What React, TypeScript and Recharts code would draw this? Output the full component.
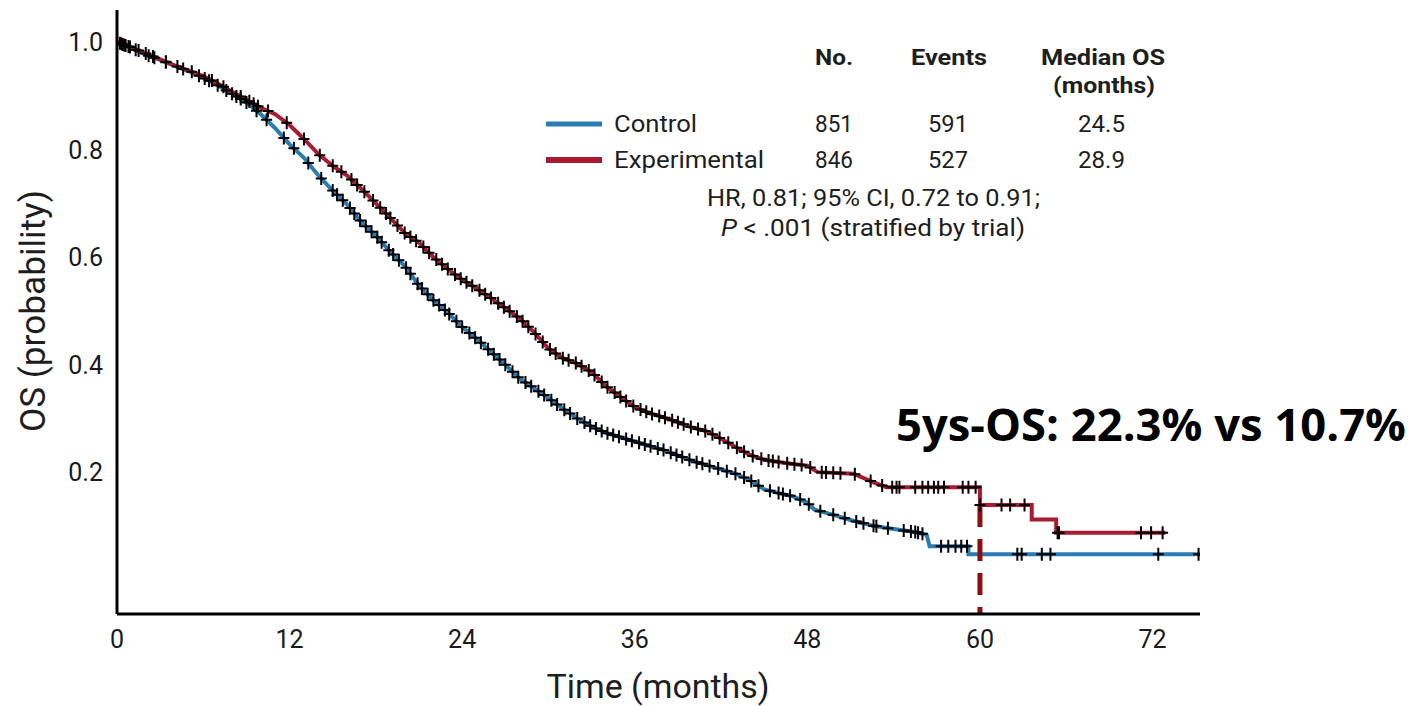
import { ComposedChart, Line, Scatter, XAxis, YAxis, ReferenceLine } from 'recharts';

// Kaplan-Meier curves (months, OS probability)
const controlTime = [0, 1, 2, 3, 4, 5, 6, 7, 8, 9, 10, 11, 12, 13, 14, 15, 16, 17, 18, 19, 20, 21, 22, 23, 24, 25, 26, 27, 28, 29, 30, 31, 32, 33, 34, 35, 36, 37, 38, 39, 40, 41, 42, 43, 44, 45, 46, 47, 48, 48.5, 50, 51, 52.6, 54, 55.6, 56.3, 56.5, 59.2, 59.2, 75.3];
const controlSurv = [1.0, 0.99, 0.977, 0.967, 0.956, 0.946, 0.934, 0.92, 0.904, 0.888, 0.866, 0.84, 0.81, 0.785, 0.752, 0.724, 0.698, 0.665, 0.64, 0.61, 0.584, 0.547, 0.52, 0.497, 0.47, 0.448, 0.424, 0.4, 0.374, 0.356, 0.338, 0.318, 0.3, 0.285, 0.273, 0.265, 0.257, 0.249, 0.241, 0.231, 0.221, 0.213, 0.205, 0.197, 0.185, 0.168, 0.161, 0.155, 0.143, 0.13, 0.119, 0.111, 0.1, 0.094, 0.088, 0.083, 0.062, 0.062, 0.047, 0.047];

const expTime = [0, 1, 2, 3, 4, 5, 6, 7, 8, 9, 10, 11, 12, 13, 14, 15, 16, 17, 18, 19, 20, 21, 22, 23, 24, 25, 26, 27, 28, 29, 30, 31, 32, 33, 34, 35, 36, 37, 38, 39, 40, 41, 42, 43, 44, 45, 46, 47, 48, 48.7, 51.2, 52.6, 53.5, 60, 60, 63.6, 63.6, 65.3, 65.3, 72.9];
const expSurv = [1.0, 0.99, 0.979, 0.968, 0.957, 0.947, 0.937, 0.923, 0.908, 0.893, 0.878, 0.866, 0.846, 0.82, 0.792, 0.77, 0.752, 0.727, 0.7, 0.673, 0.645, 0.627, 0.6, 0.578, 0.558, 0.542, 0.524, 0.505, 0.486, 0.46, 0.43, 0.412, 0.402, 0.386, 0.36, 0.34, 0.321, 0.31, 0.302, 0.293, 0.283, 0.276, 0.262, 0.247, 0.232, 0.223, 0.219, 0.215, 0.212, 0.2, 0.197, 0.181, 0.172, 0.172, 0.139, 0.139, 0.112, 0.112, 0.087, 0.087];

// censoring times (months)
const controlCensor = [0.2, 0.4, 0.6, 0.9, 1.3, 2.2, 2.6, 3.4, 4.6, 5.7, 6.1, 6.4, 7.0, 7.6, 8.0, 8.3, 8.6, 9.0, 9.7, 10.4, 11.6, 12.3, 13.3, 14.2, 15.0, 15.3, 15.7, 16.2, 16.5, 16.9, 17.3, 17.7, 18.1, 18.4, 18.9, 19.2, 19.6, 20.1, 20.4, 20.9, 21.2, 21.6, 22.0, 22.4, 22.8, 23.1, 23.6, 24.0, 24.5, 24.9, 25.3, 25.8, 26.2, 26.6, 27.0, 27.5, 27.9, 28.4, 28.8, 29.3, 29.7, 30.2, 30.6, 31.1, 31.5, 32.0, 32.5, 32.9, 33.3, 33.7, 34.1, 34.5, 34.9, 35.4, 35.8, 36.3, 36.7, 37.1, 37.6, 38.0, 38.5, 38.9, 39.3, 39.8, 40.3, 40.7, 41.2, 41.8, 42.4, 43.0, 43.6, 44.1, 44.6, 45.4, 46.0, 46.3, 46.8, 47.5, 48.1, 48.9, 49.8, 50.6, 51.4, 51.9, 52.6, 52.8, 53.6, 54.7, 55.2, 55.5, 55.7, 56.0, 57.3, 57.8, 58.3, 58.7, 59.1, 62.6, 62.9, 64.3, 64.9, 72.4, 75.2];
const expCensor = [0.3, 0.5, 0.8, 1.5, 2.0, 2.5, 3.4, 4.2, 5.2, 6.6, 7.4, 8.6, 9.2, 9.5, 9.8, 10.5, 11.8, 13.0, 14.1, 15.0, 15.6, 16.3, 16.7, 17.2, 17.8, 18.3, 18.7, 19.0, 19.5, 20.0, 20.4, 20.8, 21.3, 21.7, 22.2, 22.6, 23.0, 23.5, 23.9, 24.3, 24.7, 25.2, 25.6, 26.0, 26.5, 26.9, 27.3, 27.8, 28.2, 28.6, 29.1, 29.6, 30.1, 30.5, 31.0, 31.4, 31.9, 32.3, 32.8, 33.2, 33.7, 34.1, 34.6, 35.0, 35.4, 35.9, 36.4, 36.8, 37.2, 37.7, 38.1, 38.6, 39.0, 39.4, 39.9, 40.4, 40.9, 41.4, 41.9, 42.5, 43.1, 43.6, 44.2, 44.8, 45.3, 45.6, 46.0, 46.6, 47.1, 47.6, 48.2, 49.0, 49.3, 49.8, 50.3, 51.3, 52.4, 53.2, 53.9, 54.2, 54.4, 55.5, 56.0, 56.4, 56.8, 57.1, 57.5, 58.8, 59.2, 59.7, 60.0, 61.5, 62.1, 63.1, 65.4, 65.5, 71.2, 71.9, 72.7];

const xTicks = [0, 12, 24, 36, 48, 60, 72];
const yTicks = [0.2, 0.4, 0.6, 0.8, 1.0];

const BLUE = '#2a7db3';
const RED = '#a81c32';

// survival value on the drawn curve at time t
function survAt(times: number[], surv: number[], t: number) {
  let i = 0;
  while (i + 1 < times.length && times[i + 1] <= t) i++;
  if (i + 1 < times.length && times[i + 1] > times[i]) {
    const f = (t - times[i]) / (times[i + 1] - times[i]);
    return surv[i] + f * (surv[i + 1] - surv[i]);
  }
  return surv[i];
}

const controlData = controlTime.map((t, i) => ({ t, s: controlSurv[i] }));
const expData = expTime.map((t, i) => ({ t, s: expSurv[i] }));
const controlMarks = controlCensor.map((t) => ({ t, s: survAt(controlTime, controlSurv, t) }));
const expMarks = expCensor.map((t) => ({ t, s: survAt(expTime, expSurv, t) }));

const Plus = (props: any) => {
  const { cx, cy } = props;
  return (
    <path
      d={`M${cx - 5.5},${cy}H${cx + 5.5}M${cx},${cy - 6.5}V${cy + 6.5}`}
      stroke="#000"
      strokeWidth={2}
      fill="none"
    />
  );
};

const tickStyle = { fill: '#1a1a1a', fontSize: 25, fontFamily: 'Roboto, sans-serif' };
const txt = { fill: '#1e1e1e', fontFamily: '"Liberation Sans Narrow", Roboto, sans-serif' };

export default function App() {
  return (
    <div style={{ position: 'absolute', left: 0, top: 0, width: 1417, height: 706, background: '#fff' }}>
      <ComposedChart width={1417} height={706} margin={{ top: 10, right: 217, bottom: 52, left: 57 }}>
        <XAxis
          dataKey="t"
          type="number"
          domain={[0, 75.3]}
          ticks={xTicks}
          interval={0}
          tickLine={false}
          tickMargin={10}
          height={40}
          axisLine={{ stroke: '#000', strokeWidth: 3 }}
          tick={tickStyle}
          allowDataOverflow
        />
        <YAxis
          dataKey="s"
          type="number"
          domain={[-0.064, 1.06]}
          ticks={yTicks}
          interval={0}
          tickLine={false}
          tickMargin={8}
          width={60}
          axisLine={{ stroke: '#000', strokeWidth: 3 }}
          tick={tickStyle}
          tickFormatter={(v: number) => v.toFixed(1)}
          allowDataOverflow
        />
        <Line data={controlData} dataKey="s" type="linear" stroke={BLUE} strokeWidth={4} dot={false} isAnimationActive={false} />
        <Line data={expData} dataKey="s" type="linear" stroke={RED} strokeWidth={4} dot={false} isAnimationActive={false} />
        <ReferenceLine
          segment={[{ x: 60, y: 0.139 }, { x: 60, y: -0.064 }]}
          stroke="#8b0f12"
          strokeWidth={5}
          strokeDasharray="22 12"
        />
        <Scatter data={controlMarks} dataKey="s" shape={<Plus />} isAnimationActive={false} />
        <Scatter data={expMarks} dataKey="s" shape={<Plus />} isAnimationActive={false} />
      </ComposedChart>

      <svg width={1417} height={706} style={{ position: 'absolute', left: 0, top: 0, pointerEvents: 'none' }}>
        {/* legend table */}
        <g {...txt} fontSize={22} fontWeight="bold" dominantBaseline="central">
          <text x={815} y={57} textLength={38} lengthAdjust="spacingAndGlyphs">No.</text>
          <text x={911} y={57} textLength={76} lengthAdjust="spacingAndGlyphs">Events</text>
          <text x={1041} y={57} textLength={124} lengthAdjust="spacingAndGlyphs">Median OS</text>
          <text x={1053} y={85} textLength={102} lengthAdjust="spacingAndGlyphs">(months)</text>
        </g>
        <line x1={546} y1={124} x2={602} y2={124} stroke={BLUE} strokeWidth={5} />
        <line x1={546} y1={160} x2={602} y2={160} stroke={RED} strokeWidth={6} />
        <g {...txt} fontSize={23} dominantBaseline="central">
          <text x={614} y={124} textLength={83} lengthAdjust="spacingAndGlyphs">Control</text>
          <text x={614} y={160} textLength={150} lengthAdjust="spacingAndGlyphs">Experimental</text>
          <text x={815} y={124} textLength={38} lengthAdjust="spacingAndGlyphs">851</text>
          <text x={928} y={124} textLength={40} lengthAdjust="spacingAndGlyphs">591</text>
          <text x={1078} y={124} textLength={47} lengthAdjust="spacingAndGlyphs">24.5</text>
          <text x={815} y={160} textLength={38} lengthAdjust="spacingAndGlyphs">846</text>
          <text x={928} y={160} textLength={40} lengthAdjust="spacingAndGlyphs">527</text>
          <text x={1078} y={160} textLength={47} lengthAdjust="spacingAndGlyphs">28.9</text>
          <text x={707} y={198} textLength={333} lengthAdjust="spacingAndGlyphs">HR, 0.81; 95% CI, 0.72 to 0.91;</text>
          <text x={721} y={228} textLength={304} lengthAdjust="spacingAndGlyphs">
            <tspan fontStyle="italic">P</tspan> &lt; .001 (stratified by trial)
          </text>
        </g>

        {/* axis titles */}
        <text {...txt} fontSize={33} x={658} y={686} textAnchor="middle" dominantBaseline="central" textLength={223} lengthAdjust="spacingAndGlyphs">
          Time (months)
        </text>
        <text
          {...txt}
          fontSize={35}
          x={0}
          y={0}
          textAnchor="middle"
          dominantBaseline="central"
          transform="translate(33 311) rotate(-90)"
          textLength={242}
          lengthAdjust="spacingAndGlyphs"
        >
          OS (probability)
        </text>

        {/* 5-year annotation */}
        <text
          x={896}
          y={423}
          fill="#000"
          fontSize={38}
          fontWeight="bold"
          fontFamily='"Open Sans", "Noto Sans", sans-serif'
          dominantBaseline="central"
          textLength={510}
          lengthAdjust="spacingAndGlyphs"
          transform="translate(896 423) scale(1 1.2) translate(-896 -423)"
        >
          5ys-OS: 22.3% vs 10.7%
        </text>
      </svg>
    </div>
  );
}
